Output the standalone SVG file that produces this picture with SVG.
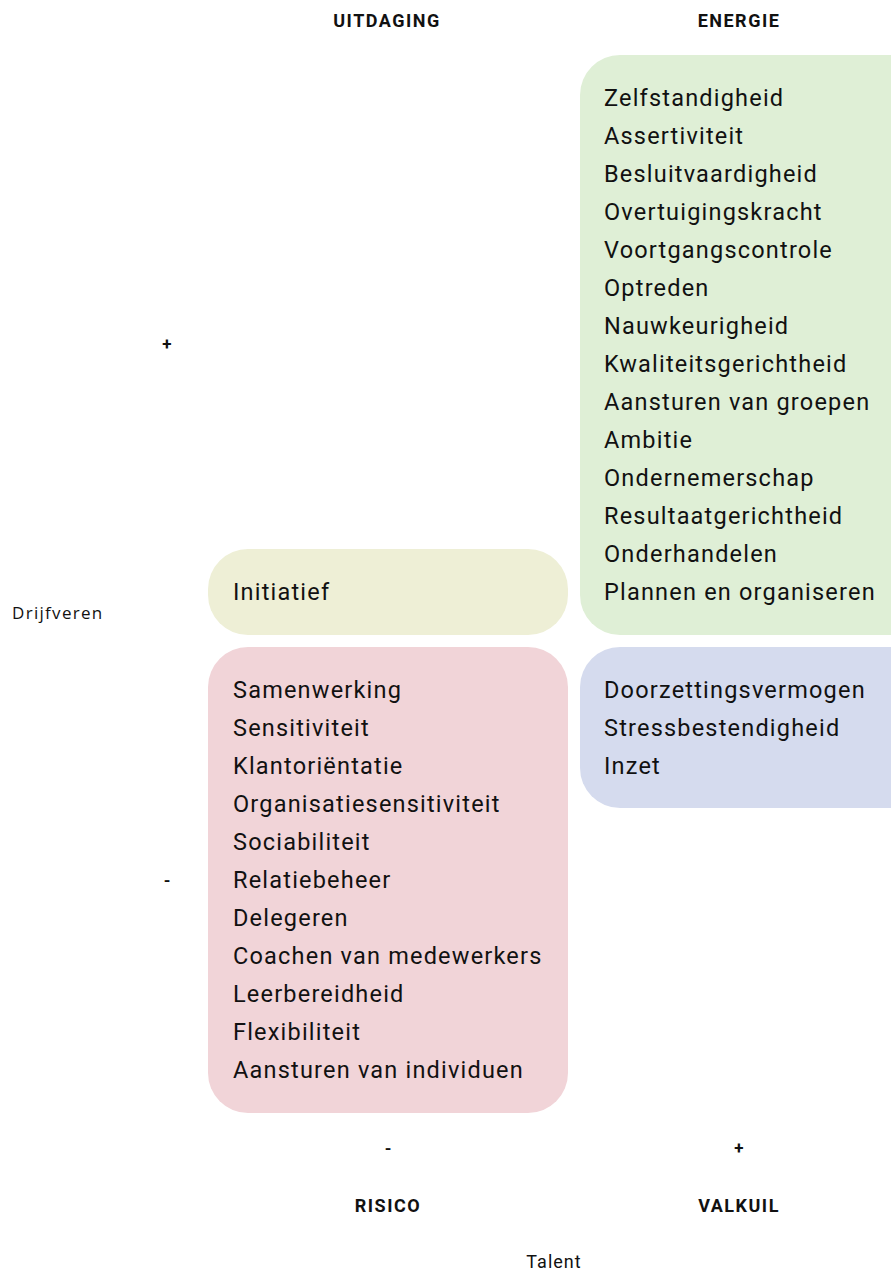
<svg xmlns="http://www.w3.org/2000/svg" width="891" height="1271" viewBox="0 0 891 1271">
<style>
.hdr{font-family:Roboto,"Liberation Sans",sans-serif;font-weight:700;font-size:18px;letter-spacing:1.5px;fill:#111;text-anchor:middle}
.sign{font-family:Roboto,"Liberation Sans",sans-serif;font-weight:700;font-size:17px;fill:#111;text-anchor:middle}
.axis{font-family:"Open Sans","Noto Sans",sans-serif;font-size:17px;letter-spacing:1.3px;fill:#111}
.talent{font-family:Roboto,"Liberation Sans",sans-serif;font-size:18px;letter-spacing:1px;fill:#111;text-anchor:middle}
.item{font-family:Roboto,"Liberation Sans",sans-serif;font-size:23.5px;letter-spacing:1.2px;fill:#111}
</style>
<rect width="891" height="1271" fill="#fff"/>
<g id="labels">
<text class="hdr" x="387" y="27">UITDAGING</text>
<text class="hdr" x="739" y="27">ENERGIE</text>
<text class="hdr" x="388" y="1212">RISICO</text>
<text class="hdr" x="739" y="1212">VALKUIL</text>
<text class="sign" x="167" y="350">+</text>
<text class="sign" x="167" y="886">-</text>
<text class="sign" x="388" y="1154">-</text>
<text class="sign" x="739" y="1154">+</text>
<text class="axis" x="12" y="619">Drijfveren</text>
<text class="talent" x="554" y="1268">Talent</text>
</g>
<g id="energie">
<rect x="580" y="55" width="351" height="580" rx="40" fill="#dfefd6"/>
<text class="item" x="604" y="106">Zelfstandigheid</text>
<text class="item" x="604" y="144">Assertiviteit</text>
<text class="item" x="604" y="182">Besluitvaardigheid</text>
<text class="item" x="604" y="220">Overtuigingskracht</text>
<text class="item" x="604" y="258">Voortgangscontrole</text>
<text class="item" x="604" y="296">Optreden</text>
<text class="item" x="604" y="334">Nauwkeurigheid</text>
<text class="item" x="604" y="372">Kwaliteitsgerichtheid</text>
<text class="item" x="604" y="410">Aansturen van groepen</text>
<text class="item" x="604" y="448">Ambitie</text>
<text class="item" x="604" y="486">Ondernemerschap</text>
<text class="item" x="604" y="524">Resultaatgerichtheid</text>
<text class="item" x="604" y="562">Onderhandelen</text>
<text class="item" x="604" y="600">Plannen en organiseren</text>
</g>
<g id="uitdaging">
<rect x="208" y="549" width="360" height="86" rx="40" fill="#eeefd6"/>
<text class="item" x="233" y="600">Initiatief</text>
</g>
<g id="risico">
<rect x="208" y="647" width="360" height="466" rx="40" fill="#f1d4d8"/>
<text class="item" x="233" y="698">Samenwerking</text>
<text class="item" x="233" y="736">Sensitiviteit</text>
<text class="item" x="233" y="774">Klantoriëntatie</text>
<text class="item" x="233" y="812">Organisatiesensitiviteit</text>
<text class="item" x="233" y="850">Sociabiliteit</text>
<text class="item" x="233" y="888">Relatiebeheer</text>
<text class="item" x="233" y="926">Delegeren</text>
<text class="item" x="233" y="964">Coachen van medewerkers</text>
<text class="item" x="233" y="1002">Leerbereidheid</text>
<text class="item" x="233" y="1040">Flexibiliteit</text>
<text class="item" x="233" y="1078">Aansturen van individuen</text>
</g>
<g id="valkuil">
<rect x="580" y="647" width="351" height="161" rx="40" fill="#d5dbee"/>
<text class="item" x="604" y="698">Doorzettingsvermogen</text>
<text class="item" x="604" y="736">Stressbestendigheid</text>
<text class="item" x="604" y="774">Inzet</text>
</g>
<g id="connectors"></g>
</svg>
